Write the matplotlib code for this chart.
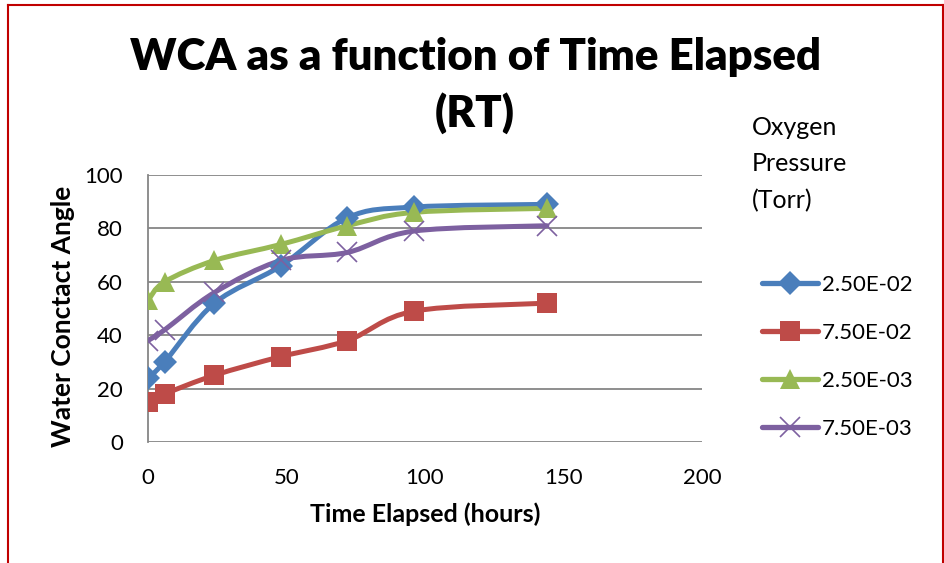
import numpy as np
import matplotlib
matplotlib.use("Agg")
from matplotlib import pyplot as plt
from matplotlib.path import Path
from matplotlib.patches import PathPatch
from matplotlib.lines import Line2D

plt.rcParams['font.family'] = ['Lato', 'DejaVu Sans']

# time elapsed (hours)
hours = [0, 6, 24, 48, 72, 96, 144]

# water contact angle per oxygen pressure
wca_25e2 = [24, 30, 52, 66, 84, 88, 89]
wca_75e2 = [15, 18, 25, 32, 38, 49, 52]
wca_25e3 = [53, 60, 68, 74, 81, 86, 87.5]
wca_75e3 = [38, 42, 56, 68, 71, 79, 81]

labels = ["2.50E-02", "7.50E-02", "2.50E-03", "7.50E-03"]
colors = ["#4A7EBB", "#BE4B48", "#98B954", "#7D60A0"]
markers = ["D", "s", "^", "x"]
msizes = [12, 14.5, 15, 14]


def smooth_path(x, y):
    # excel-like smoothed line: cubic bezier through the points
    p = np.column_stack([x, y]).astype(float)
    verts = [p[0]]
    codes = [Path.MOVETO]
    n = len(p)
    for i in range(n - 1):
        p0 = p[i - 1] if i > 0 else p[i]
        p3 = p[i + 2] if i + 2 < n else p[i + 1]
        c1 = p[i] + (p[i + 1] - p0) / 6.0
        c2 = p[i + 1] - (p3 - p[i]) / 6.0
        verts += [c1, c2, p[i + 1]]
        codes += [Path.CURVE4] * 3
    return Path(verts, codes)


fig = plt.figure(figsize=(9.44, 5.63), dpi=100)
ax = fig.add_axes([148 / 944, 121 / 563, 554 / 944, 267 / 563])

series = [wca_25e2, wca_75e2, wca_25e3, wca_75e3]
handles = []
for vals, lab, c, m, ms in zip(series, labels, colors, markers, msizes):
    ax.add_patch(PathPatch(smooth_path(hours, vals), fill=False,
                           edgecolor=c, lw=3.6, capstyle='round', zorder=3))
    mew = 1.2 if m == "x" else 0
    ax.plot(hours, vals, ls='none', marker=m, ms=ms, mew=mew,
            color=c, zorder=4)
    handles.append(Line2D([], [], color=c, lw=3.8, marker=m, ms=ms,
                          mew=mew, solid_capstyle='round'))

ax.set_xlim(0, 200)
ax.set_ylim(0, 100)
ax.set_xticks([0, 50, 100, 150, 200])
ax.set_yticks([0, 20, 40, 60, 80, 100])
ax.grid(axis='y', color='#868686', lw=1.3)
ax.set_axisbelow(True)
for s in ['top', 'right', 'bottom']:
    ax.spines[s].set_visible(False)
ax.spines['left'].set_color('#868686')
ax.spines['left'].set_linewidth(1.3)
ax.tick_params(length=0, labelsize=16)
ax.tick_params(axis='y', pad=18)
ax.tick_params(axis='x', pad=19)

ax.set_xlabel("Time Elapsed (hours)", fontsize=18, fontweight='bold', labelpad=10)
ax.set_ylabel("Water Conctact Angle", fontsize=19, fontweight='bold')
ax.yaxis.set_label_coords(-0.131, 0.47)

fig.text(475 / 944, 1 - 70 / 563, "WCA as a function of Time Elapsed",
         ha='center', va='baseline', fontsize=31.5, fontweight='heavy')
fig.text(475 / 944, 1 - 127 / 563, "(RT)",
         ha='center', va='baseline', fontsize=31.5, fontweight='heavy')

fig.text(752 / 944, 1 - 116 / 563, "Oxygen\nPressure\n(Torr)",
         ha='left', va='top', fontsize=18, linespacing=1.7)

fig.legend(handles, labels, loc='upper left', bbox_to_anchor=(762 / 944, 1 - 275 / 563),
           frameon=False, fontsize=16, handlelength=2.5, handletextpad=0.18,
           labelspacing=1.26, borderpad=0, borderaxespad=0)

# red frame around the chart
frame = dict(color='#C00000', lw=1.5, transform=fig.transFigure)
fig.add_artist(Line2D([7.5 / 944, 7.5 / 944], [0, 1 - 5 / 563], **frame))
fig.add_artist(Line2D([7.5 / 944, 942.5 / 944], [1 - 5 / 563, 1 - 5 / 563], **frame))
fig.add_artist(Line2D([942.5 / 944, 942.5 / 944], [0, 1 - 5 / 563], **frame))

fig.savefig("out.png", dpi=100)
